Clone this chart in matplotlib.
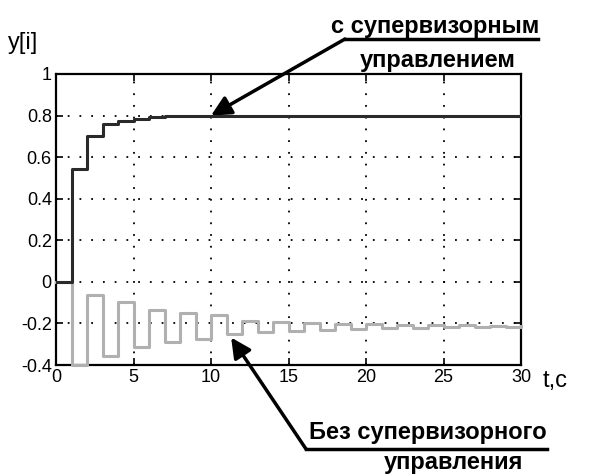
import numpy as np
import matplotlib.pyplot as plt

plt.rcParams['font.family'] = ['Liberation Sans', 'DejaVu Sans']

t = np.arange(0, 31)
y_super = [0, 0.544, 0.70, 0.76, 0.775, 0.785, 0.795, 0.8, 0.8, 0.8, 0.8,
           0.8, 0.8, 0.8, 0.8, 0.8, 0.8, 0.8, 0.8, 0.8, 0.8,
           0.8, 0.8, 0.8, 0.8, 0.8, 0.8, 0.8, 0.8, 0.8, 0.8]
y_plain = [0, -0.4, -0.062, -0.355, -0.098, -0.314, -0.133, -0.287, -0.148, -0.273, -0.16,
           -0.252, -0.187, -0.243, -0.194, -0.236, -0.197, -0.233, -0.204, -0.227, -0.205,
           -0.224, -0.206, -0.222, -0.207, -0.219, -0.208, -0.217, -0.21, -0.215, -0.213]

xticks = [0, 5, 10, 15, 20, 25, 30]
yticks = [-0.4, -0.2, 0, 0.2, 0.4, 0.6, 0.8, 1]
ytick_labels = ['-0.4', '-0.2', '0', '0.2', '0.4', '0.6', '0.8', '1']

W, H = 591, 475
fig = plt.figure(figsize=(W / 100, H / 100), dpi=100)
ax = fig.add_axes([56 / W, 1 - 365 / H, 465 / W, 291 / H])

ax.step(t, y_plain, where='post', color='#b0b0b0', lw=2.2, clip_on=False, zorder=3)
ax.step(t, y_super, where='post', color='#2a2a2a', lw=2.2, zorder=4)

ax.set_xlim(0, 30)
ax.set_ylim(-0.4, 1)
ax.set_xticks(xticks)
ax.set_yticks(yticks)
ax.set_yticklabels(ytick_labels)
ax.grid(True, color='black', linestyle=(0, (1, 5.5)), lw=1.3)
ax.tick_params(direction='in', top=True, right=True, length=5, width=1.2,
               labelsize=13, pad=3)
for s in ax.spines.values():
    s.set_linewidth(1.6)

def fp(x, y):
    # pixel -> figure fraction
    return (x / W, 1 - y / H)

fig.text(*fp(8, 43), 'y[i]', fontsize=17, va='center', ha='left')
fig.text(*fp(543, 381), 't,c', fontsize=17, va='center', ha='left')

# top label
fig.text(*fp(435, 27), 'с супервизорным', fontsize=17, fontweight='bold',
         ha='center', va='center')
fig.text(*fp(438, 60), 'управлением', fontsize=17, fontweight='bold',
         ha='center', va='center')
fig.add_artist(plt.Line2D([345 / W, 538 / W], [1 - 39 / H, 1 - 39 / H],
                          color='black', lw=2.5, transform=fig.transFigure))
ax.annotate('', xy=(10, 0.8), xycoords='data',
            xytext=fp(345, 39), textcoords='figure fraction',
            arrowprops=dict(arrowstyle='-|>', lw=2.5, color='black',
                            mutation_scale=30, shrinkA=0, shrinkB=0))

# bottom label
fig.text(*fp(428, 433), 'Без супервизорного', fontsize=17, fontweight='bold',
         ha='center', va='center')
fig.text(*fp(453, 462), 'управления', fontsize=17, fontweight='bold',
         ha='center', va='center')
fig.add_artist(plt.Line2D([306 / W, 547 / W], [1 - 449 / H, 1 - 449 / H],
                          color='black', lw=2.5, transform=fig.transFigure))
ax.annotate('', xy=(11.3, -0.268), xycoords='data',
            xytext=fp(306, 449), textcoords='figure fraction',
            arrowprops=dict(arrowstyle='-|>', lw=2.5, color='black',
                            mutation_scale=30, shrinkA=0, shrinkB=0))

fig.savefig('out.png', dpi=100)
